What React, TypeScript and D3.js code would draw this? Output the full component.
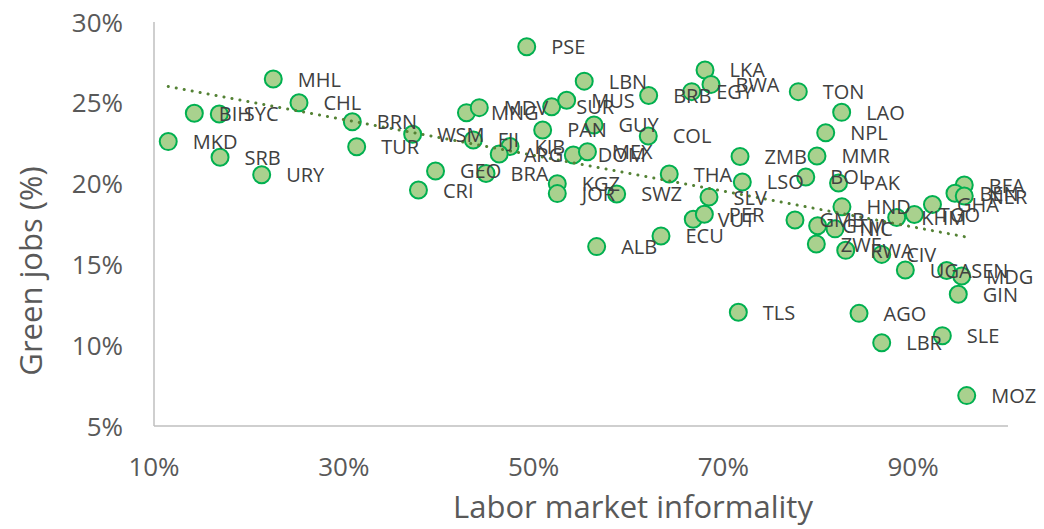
import React from "react";
import * as d3 from "d3";

const countries = ["MKD","BIH","SYC","MHL","CHL","SRB","URY","BRN","TUR","WSM","FJI","GEO","BRA","CRI","MNG","MDV","SUR","MUS","PSE","LBN","BRB","PAN","GUY","COL","KIB","ARG","DOM","MEX","KGZ","JOR","SWZ","THA","LKA","BWA","EGY","TON","LAO","NPL","ZMB","MMR","LSO","BOL","PAK","SLV","HND","VUT","PER","ECU","GMB","GTM","NIC","ZWE","RWA","CIV","KHM","TGO","GHA","BFA","BEN","NER","UGA","SEN","MDG","GIN","TLS","AGO","LBR","SLE","MOZ","ALB"];

const informality = [11.5,14.25,16.88,22.57,25.28,16.96,21.35,30.9,31.36,37.26,43.65,39.67,44.99,37.87,42.93,44.28,51.91,53.49,49.28,55.34,62.13,50.96,56.37,62.09,47.52,46.38,54.19,55.68,52.5,52.5,58.76,64.3,68.07,68.7,66.67,77.9,82.47,80.79,71.76,79.87,72.0,78.69,82.14,68.49,82.5,66.83,68.0,63.43,77.55,79.94,81.77,79.8,82.9,86.69,88.27,90.13,92.04,95.39,94.41,95.39,89.18,93.54,95.12,94.76,71.58,84.3,86.69,93.08,95.65,56.65];

const greenJobs = [22.6,24.35,24.31,26.47,25.0,21.63,20.55,23.83,22.28,23.05,22.7,20.78,20.63,19.6,24.39,24.7,24.76,25.16,28.47,26.34,25.45,23.32,23.63,22.95,22.3,21.83,21.77,21.97,19.99,19.38,19.36,20.59,27.03,26.14,25.69,25.69,24.41,23.15,21.68,21.71,20.1,20.41,20.04,19.17,18.56,17.79,18.1,16.76,17.75,17.39,17.2,16.26,15.87,15.62,17.9,18.09,18.71,19.91,19.4,19.23,14.65,14.62,14.28,13.15,12.04,11.97,10.15,10.59,6.88,16.1];

const xTicks = [0.1, 0.3, 0.5, 0.7, 0.9];
const yTicks = [0.05, 0.1, 0.15, 0.2, 0.25, 0.3];

const xTitle = "Labor market informality";
const yTitle = "Green jobs (%)";

const FONT = "'Open Sans', 'Noto Sans', sans-serif";

export default function App() {
  const width = 1044;
  const height = 529;
  const x = d3.scaleLinear().domain([0.1, 1.0]).range([154, 1008]);
  const y = d3.scaleLinear().domain([0.05, 0.3]).range([426, 22]);
  const fmt = d3.format(".0%");

  const pts = countries.map((c, i) => ({
    c,
    x: informality[i] / 100,
    y: greenJobs[i] / 100,
  }));

  // linear regression trendline
  const n = pts.length;
  const mx = d3.mean(pts, (p) => p.x) as number;
  const my = d3.mean(pts, (p) => p.y) as number;
  let sxy = 0, sxx = 0;
  pts.forEach((p) => {
    sxy += (p.x - mx) * (p.y - my);
    sxx += (p.x - mx) * (p.x - mx);
  });
  const slope = sxy / sxx;
  const icpt = my - slope * mx;
  const [x0, x1] = d3.extent(pts, (p) => p.x) as [number, number];
  const line = d3.line<[number, number]>().x((d) => x(d[0])).y((d) => y(d[1]));
  const trend = line([
    [x0, icpt + slope * x0],
    [x1, icpt + slope * x1],
  ]);

  return (
    <svg
      width={width}
      height={height}
      style={{ position: "absolute", left: 0, top: 0, background: "#fff" }}
      fontFamily={FONT}
    >
      {/* axes */}
      <line x1={x(0.1)} x2={x(1.0)} y1={y(0.05)} y2={y(0.05)} stroke="#bfbfbf" strokeWidth={1.5} />
      <line x1={x(0.1)} x2={x(0.1)} y1={y(0.05)} y2={y(0.3)} stroke="#bfbfbf" strokeWidth={1.5} />
      {yTicks.map((t) => (
        <text key={"y" + t} x={123} y={y(t) + 9.5} textAnchor="end" fontSize={26} fill="#595959">
          {fmt(t)}
        </text>
      ))}
      {xTicks.map((t) => (
        <text key={"x" + t} x={x(t)} y={476} textAnchor="middle" fontSize={26} fill="#595959">
          {fmt(t)}
        </text>
      ))}
      <text x={633} y={518} textAnchor="middle" fontSize={31} fill="#595959">
        {xTitle}
      </text>
      <text
        transform={`translate(42,271) rotate(-90)`}
        textAnchor="middle"
        fontSize={31}
        fill="#595959"
      >
        {yTitle}
      </text>
      {/* markers */}
      {pts.map((p) => (
        <circle
          key={"c" + p.c}
          cx={x(p.x)}
          cy={y(p.y)}
          r={8.5}
          fill="#a9d18e"
          stroke="#00b050"
          strokeWidth={2}
        />
      ))}
      {/* trendline */}
      <path
        d={trend || ""}
        fill="none"
        stroke="#548235"
        strokeWidth={3}
        strokeDasharray="0.1 8"
        strokeLinecap="round"
      />
      {/* labels */}
      {pts.map((p) => (
        <text
          key={"t" + p.c}
          x={x(p.x) + 24.5}
          y={y(p.y) + 7.5}
          fontSize={20}
          fill="#404040"
        >
          {p.c}
        </text>
      ))}
    </svg>
  );
}
